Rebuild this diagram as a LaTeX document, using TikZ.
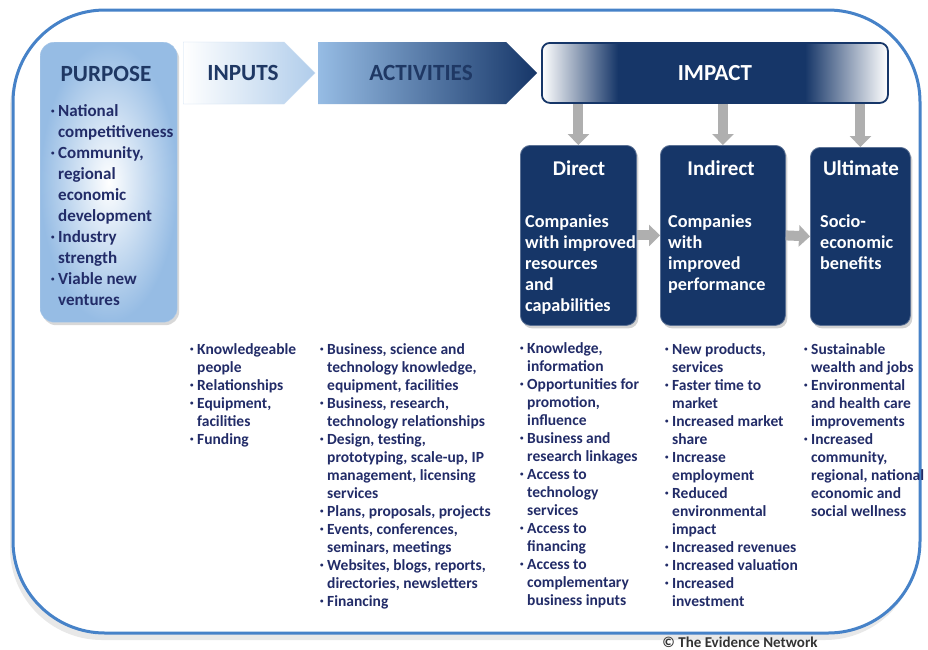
\documentclass[tikz,border=0pt]{standalone}
\usepackage{fontspec}
\setmainfont{Carlito}
\usetikzlibrary{shapes.symbols,arrows.meta,shadows}
\definecolor{frameblue}{RGB}{70,130,200}
\definecolor{navy}{RGB}{22,54,104}
\definecolor{txtnavy}{RGB}{34,44,104}
\definecolor{titlenavy}{RGB}{31,56,100}
\definecolor{lightblue}{RGB}{150,188,228}
\definecolor{arrgray}{RGB}{175,175,175}
\pgfdeclarehorizontalshading{impactshade}{100bp}{color(0bp)=(white); color(25bp)=(white); color(36bp)=(navy); color(63bp)=(navy); color(75bp)=(white); color(100bp)=(white)}
\newcommand\bu{\makebox[7pt][l]{\raisebox{2.5pt}{\fontsize{7}{7}\selectfont\textbullet}}}
\newcommand\ind{\hspace*{7pt}}
\begin{document}
\begin{tikzpicture}[x=1pt,y=-1pt,
  ttl/.style={font=\bfseries\fontsize{23.2}{26}\selectfont, text=titlenavy, inner sep=0pt},
  lst/.style={anchor=north west, align=left, inner sep=0pt, text=txtnavy, font=\bfseries\fontsize{15.5}{18}\selectfont},
  darkbox/.style={fill=navy, draw=navy!70!white, line width=0.8pt, rounded corners=10pt, anchor=north west, minimum height=180pt, drop shadow={opacity=0.35, shadow xshift=2pt, shadow yshift=-3pt}},
  boxttl/.style={font=\bfseries\fontsize{21}{24}\selectfont, text=white, inner sep=0pt},
  boxtxt/.style={anchor=north west, align=left, inner sep=0pt, text=white, font=\bfseries\fontsize{18.2}{21}\selectfont},
  grayarr/.style={draw=arrgray, line width=10pt, -{Triangle[width=21pt,length=11pt]}}
]
\useasboundingbox (0,0) rectangle (928,649);
% outer frame
\draw[frameblue, line width=3pt, fill=white, rounded corners=92pt,
  drop shadow={opacity=0.18, shadow xshift=-3pt, shadow yshift=-7pt}] (13,10) rectangle (920,633);
% purpose
\node[anchor=north west, minimum width=137pt, minimum height=280pt, rounded corners=14pt,
  inner color=white, outer color=lightblue, draw=lightblue!80!white,
  drop shadow={opacity=0.3, shadow xshift=2pt, shadow yshift=-3pt}] (purpose) at (40,42) {};
\node[ttl] (purposet) at (106,74) {PURPOSE};
\node[lst, font=\bfseries\fontsize{17}{21}\selectfont] (purposel) at (51,104) {\bu National\\ \ind competitiveness\\ \bu Community,\\ \ind regional\\ \ind economic\\ \ind development\\ \bu Industry\\ \ind strength\\ \bu Viable new\\ \ind ventures};
% inputs / activities
\node[signal, signal to=east, anchor=west, minimum width=132pt, minimum height=62pt, inner sep=0pt,
  left color=white, right color=lightblue!75!white, draw=lightblue!50!white] (inputs) at (183,73) {};
\node[ttl] (inputst) at (243,73) {INPUTS};
\node[signal, signal to=east, anchor=west, minimum width=219pt, minimum height=62pt, inner sep=0pt,
  left color=lightblue, right color=navy, draw=none] (activities) at (318,73) {};
\node[ttl] (activitiest) at (421,73) {ACTIVITIES};
% impact
\node[anchor=north west, minimum width=346pt, minimum height=60pt, rounded corners=8pt,
  draw=navy, line width=1.8pt, shade, shading=impactshade, text=white,
  font=\bfseries\fontsize{23}{26}\selectfont] (impact) at (541,42) {IMPACT};
% dark boxes
\node[darkbox, minimum width=116pt] (direct) at (520,145) {};
\node[darkbox, minimum width=125pt] (indirect) at (660,145) {};
\node[darkbox, minimum width=100pt, minimum height=178pt] (ultimate) at (810,147) {};
\node[boxttl] (directt) at (579,168) {Direct};
\node[boxttl] (indirectt) at (721,168) {Indirect};
\node[boxttl] (ultimatet) at (861,168) {Ultimate};
\node[boxtxt] (directb) at (525,215) {Companies\\with improved\\resources\\and\\capabilities};
\node[boxtxt] (indirectb) at (668,215) {Companies\\with\\improved\\performance};
\node[boxtxt] (ultimateb) at (820,215) {Socio-\\economic\\benefits};
% arrows
\draw[grayarr] (impact.south -| direct.north) -- (direct.north);
\draw[grayarr] (impact.south -| indirect.north) -- (indirect.north);
\draw[grayarr] (impact.south -| ultimate.north) -- (ultimate.north);
\draw[grayarr] (direct.east) -- (indirect.west);
\draw[grayarr] (indirect.east) -- (ultimate.west);
% lists
\node[lst] (inputsl) at (190,343) {\bu Knowledgeable\\ \ind people\\ \bu Relationships\\ \bu Equipment,\\ \ind facilities\\ \bu Funding};
\node[lst] (activitiesl) at (320,343) {\bu Business, science and\\ \ind technology knowledge,\\ \ind equipment, facilities\\ \bu Business, research,\\ \ind technology relationships\\ \bu Design, testing,\\ \ind prototyping, scale-up, IP\\ \ind management, licensing\\ \ind services\\ \bu Plans, proposals, projects\\ \bu Events, conferences,\\ \ind seminars, meetings\\ \bu Websites, blogs, reports,\\ \ind directories, newsletters\\ \bu Financing};
\node[lst] (directl) at (520,342) {\bu Knowledge,\\ \ind information\\ \bu Opportunities for\\ \ind promotion,\\ \ind influence\\ \bu Business and\\ \ind research linkages\\ \bu Access to\\ \ind technology\\ \ind services\\ \bu Access to\\ \ind financing\\ \bu Access to\\ \ind complementary\\ \ind business inputs};
\node[lst] (indirectl) at (665,343) {\bu New products,\\ \ind services\\ \bu Faster time to\\ \ind market\\ \bu Increased market\\ \ind share\\ \bu Increase\\ \ind employment\\ \bu Reduced\\ \ind environmental\\ \ind impact\\ \bu Increased revenues\\ \bu Increased valuation\\ \bu Increased\\ \ind investment};
\node[lst] (ultimatel) at (804,343) {\bu Sustainable\\ \ind wealth and jobs\\ \bu Environmental\\ \ind and health care\\ \ind improvements\\ \bu Increased\\ \ind community,\\ \ind regional, national\\ \ind economic and\\ \ind social wellness};
\node[font=\bfseries\fontsize{15}{17}\selectfont, text=black!80, inner sep=0pt, anchor=base] (copy) at (740,647) {© The Evidence Network};
\end{tikzpicture}
\end{document}
